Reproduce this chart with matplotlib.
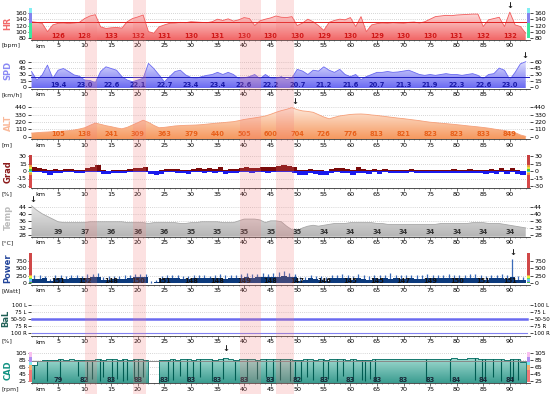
import numpy as np
import matplotlib
matplotlib.use("Agg")
import matplotlib.pyplot as plt
from matplotlib.colors import LinearSegmentedColormap
from matplotlib.patches import Rectangle, PathPatch
from matplotlib.transforms import blended_transform_factory as blend

plt.rcParams["font.family"] = "DejaVu Sans"

# ---- data (one value per km) ----
hr = [132, 130, 127, 101, 122, 127, 128, 126, 128, 130,
      142, 150, 154, 116, 111, 113, 114, 112, 132, 142,
      147, 153, 101, 96, 116, 122, 127, 128, 130, 129,
      132, 131, 130, 129, 132, 140, 136, 141, 134, 138,
      145, 142, 120, 135, 140, 144, 150, 146, 145, 148,
      120, 128, 140, 132, 120, 105, 130, 136, 140, 138,
      145, 117, 148, 101, 122, 126, 128, 127, 129, 128,
      127, 130, 131, 128, 132, 140, 148, 150, 152, 151,
      153, 154, 155, 156, 156, 117, 138, 142, 146, 117,
      162, 122, 117, 96]
spd = [37, 17, 29, 52, 21, 40, 44, 37, 29, 26,
       17, 16, 11, 37, 48, 44, 40, 25, 17, 13,
       17, 21, 56, 44, 29, 13, 25, 37, 40, 29,
       23, 21, 25, 28, 30, 35, 30, 35, 30, 20,
       22, 25, 30, 20, 30, 22, 20, 25, 18, 22,
       42, 38, 30, 40, 38, 48, 40, 35, 42, 30,
       25, 30, 18, 25, 30, 35, 35, 37, 35, 36,
       38, 40, 35, 30, 28, 30, 28, 30, 32, 30,
       30, 28, 30, 32, 28, 20, 30, 32, 45, 40,
       18, 35, 55, 60]
alt = [54, 60, 66, 70, 75, 80, 85, 90, 100, 115,
       134, 170, 204, 185, 165, 150, 132, 118, 140, 175,
       210, 247, 215, 170, 134, 140, 150, 161, 166, 170,
       172, 175, 180, 188, 196, 204, 210, 218, 225, 240,
       258, 270, 282, 295, 310, 335, 365, 390, 410, 435,
       405, 386, 378, 365, 330, 295, 268, 290, 311, 322,
       333, 338, 340, 335, 325, 318, 308, 298, 288, 278,
       270, 260, 250, 240, 228, 217, 210, 202, 195, 188,
       180, 172, 163, 155, 147, 138, 128, 115, 103, 92,
       78, 60, 26, 5]
grad_max = [9, 6, 4, 2, 4, 3, 4, 5, 3, 3,
            7, 8, 12, 2, 1, 2, 2, 2, 5, 6,
            7, 9, 1, 1, 2, 4, 5, 4, 3, 2,
            5, 6, 5, 6, 5, 8, 3, 5, 4, 7,
            8, 7, 7, 9, 8, 9, 11, 13, 10, 9,
            2, 3, 5, 3, 2, 1, 5, 7, 6, 5,
            2, 8, 5, 3, 5, 3, 5, 2, 3, 2,
            2, 4, 2, 3, 2, 3, 2, 2, 3, 4,
            2, 3, 4, 2, 3, 2, 4, 2, 6, 3,
            7, 2, 1, 1]
grad_min = [-2, -2, -3, -7, -3, -4, -2, -2, -3, -3,
            -1, -1, -2, -5, -5, -4, -4, -4, -2, -1,
            -1, -2, -6, -7, -5, -2, -2, -3, -4, -5,
            -2, -2, -3, -2, -3, -2, -5, -3, -3, -1,
            -2, -3, -2, -1, -3, -2, -1, -2, -2, -3,
            -8, -7, -3, -5, -7, -8, -3, -2, -3, -3,
            -7, -3, -3, -5, -2, -5, -2, -4, -3, -4,
            -4, -2, -4, -4, -4, -3, -4, -4, -3, -3,
            -4, -3, -3, -4, -4, -5, -3, -5, -2, -5,
            -2, -6, -8, -30]
temp = [44.5, 42, 40, 38.5, 37, 35.5, 35, 35, 35, 35,
        35, 35.5, 35.5, 35.5, 35.5, 35.5, 35.5, 35.5, 35, 35,
        35, 35, 34.5, 35, 35, 35, 35, 35, 34.5, 34.5,
        35, 35, 35.5, 35.5, 35.5, 35.5, 35, 35, 35, 36,
        37, 37, 37, 36.5, 35, 36, 36, 35.5, 33, 31,
        30.5, 32, 33, 33.5, 33, 33.5, 34, 34.5, 34.5, 34.5,
        35, 35, 35, 35, 35, 34.5, 34.5, 34, 34, 34,
        34, 34, 34, 34, 34, 34, 34, 34.5, 34.5, 34.5,
        34.5, 34.5, 34.5, 35, 35, 35, 34.5, 34.5, 34.5, 34,
        33.5, 33, 32.5, 32]
power_avg = [130, 150, 160, 70, 150, 160, 150, 160, 170, 160,
             190, 210, 220, 110, 120, 130, 140, 150, 180, 200,
             210, 210, 20, 40, 130, 160, 170, 160, 150, 150,
             160, 160, 160, 160, 170, 180, 150, 170, 160, 190,
             210, 190, 200, 210, 200, 210, 220, 230, 210, 200,
             90, 110, 160, 130, 120, 90, 160, 180, 170, 160,
             120, 180, 150, 120, 160, 150, 160, 150, 160, 155,
             150, 160, 155, 150, 160, 160, 165, 160, 170, 170,
             175, 170, 175, 180, 175, 110, 160, 160, 180, 130,
             210, 110, 100, 40]
power_max = [260, 280, 250, 150, 270, 260, 250, 280, 260, 250,
             300, 320, 330, 220, 230, 240, 250, 260, 290, 310,
             300, 310, 80, 120, 240, 260, 270, 260, 250, 250,
             260, 270, 260, 250, 280, 300, 260, 280, 260, 300,
             330, 300, 310, 330, 320, 340, 360, 400, 330, 310,
             200, 220, 270, 240, 230, 200, 260, 290, 300, 260,
             230, 300, 260, 230, 280, 260, 270, 350, 280, 260,
             270, 290, 260, 270, 300, 270, 280, 270, 300, 290,
             290, 280, 300, 320, 290, 230, 270, 280, 300, 260,
             820, 230, 200, 280]
cad = [70, 82, 85, 84, 86, 87, 86, 87, 86, 85,
       86, 85, 87, 86, 88, 87, 86, 87, 86, 88,
       87, 86, 0, 0, 84, 86, 87, 86, 88, 87,
       86, 87, 88, 87, 86, 87, 90, 87, 86, 87,
       88, 87, 86, 87, 88, 88, 87, 88, 87, 86,
       86, 87, 88, 86, 87, 86, 87, 88, 87, 86,
       87, 86, 85, 86, 87, 88, 87, 88, 87, 88,
       89, 88, 87, 88, 88, 89, 88, 87, 89, 90,
       88, 89, 90, 91, 88, 87, 88, 87, 89, 86,
       87, 88, 80, 0]
cad_dip_km = [0.4, 2.9, 5.3, 8.8, 10.4, 11.3, 12.9, 13.5, 15.1, 16.0,
              17.3, 17.9, 19.2, 20.1, 21.0, 23.9, 25.7, 26.7, 27.9, 29.2,
              30.4, 31.7, 33.9, 36.1, 38.3, 40.5, 42.4, 44.2, 45.5, 46.7,
              48.6, 49.6, 50.8, 51.8, 53.0, 54.9, 55.8, 57.4, 58.6, 60.5,
              62.1, 62.7, 63.7, 64.6, 74.3, 78.7, 83.4, 84.7, 85.3, 86.9,
              88.4, 90.0, 90.6, 91.6]
cad_dip_val = [30, 25, 28, 40, 25, 30, 25, 35, 25, 30,
               25, 28, 30, 25, 35, 30, 25, 28, 40, 25,
               30, 35, 25, 30, 28, 25, 30, 35, 25, 28,
               25, 30, 25, 35, 28, 25, 30, 25, 40, 25,
               28, 25, 30, 25, 25, 25, 28, 25, 30, 35,
               25, 30, 25, 28]
bal_km = [0, 93.2]
bal_split = [50, 50]
bal_floor = [0, 0]

label_km = list(range(5, 95, 5))
hr_labels = [126, 128, 133, 132, 131, 130, 131, 130, 130, 130, 129, 130, 129, 130, 130, 131, 132, 132]
spd_labels = ["19.4", "23.0", "22.6", "22.1", "22.7", "23.4", "23.4", "22.6", "22.2",
              "20.7", "21.2", "21.6", "20.7", "21.3", "21.9", "22.3", "22.6", "23.0"]
alt_labels = [105, 138, 241, 309, 363, 379, 440, 505, 600, 704, 726, 776, 813, 821, 823, 823, 833, 849]
temp_labels = [39, 37, 36, 36, 36, 35, 35, 35, 35, 35, 34, 34, 34, 34, 34, 34, 34, 34]
power_labels = [151, 152, 148, 150, 151, 148, 148, 149, 148, 147, 146, 145, 145, 147, 149, 150, 151, 151]
cad_labels = [79, 82, 83, 83, 83, 83, 83, 83, 83, 82, 83, 83, 83, 83, 83, 84, 84, 84]
hr_avg, spd_avg, cad_avg = 130, 23, 82
bands = [(10.1, 12.3), (19.1, 21.5), (39.2, 43.1), (46.0, 49.4)]

km = np.arange(len(hr))

W, H = 550, 394
XMIN, XMAX = -0.1, 93.8
LEFT, RIGHT = 31, 530
fig = plt.figure(figsize=(5.5, 3.94), dpi=100)


def panel(bottom, hi_px, hi_val, lo_px, lo_val, top, ticks, ticklabels=None, tsize=4.5):
    scale = (lo_px - hi_px) / (hi_val - lo_val)
    y0 = lo_val - (bottom - lo_px) / scale
    y1 = hi_val + (hi_px - top) / scale
    ax = fig.add_axes([LEFT / W, 1 - bottom / H, (RIGHT - LEFT) / W, (bottom - top) / H])
    ax.set_xlim(XMIN, XMAX)
    ax.set_ylim(y0, y1)
    ax.patch.set_alpha(0)
    for s in ["top", "left", "right"]:
        ax.spines[s].set_visible(False)
    ax.spines["bottom"].set_linewidth(0.6)
    ax.spines["bottom"].set_color("#333333")
    ax.set_xticks(label_km)
    ax.set_xticklabels([str(k) for k in label_km])
    ax.set_xticks(range(0, 94), minor=True)
    ax.tick_params(axis="x", which="major", length=2, width=0.5, labelsize=4.6, pad=0.5, color="#333333")
    ax.tick_params(axis="x", which="minor", length=1, width=0.4, color="#555555")
    ax.set_yticks(ticks)
    ax.set_yticklabels(ticklabels if ticklabels else [str(t) for t in ticks])
    ax.tick_params(axis="y", length=2, width=0.5, labelsize=tsize, pad=1,
                   left=True, right=True, labelleft=True, labelright=True)
    for t in ticks[1:]:
        ax.axhline(t, color="#b0b0b0", lw=0.5, ls=(0, (1, 2)), zorder=0.5)
    ax.annotate("km", xy=(0.8, 0), xycoords=blend(ax.transData, ax.transAxes),
                xytext=(0, -6), textcoords="offset pixels", ha="left", va="center", fontsize=4.6)
    return ax


def gfill(ax, x, y, ctop, cbot, step=None):
    y0, y1 = ax.get_ylim()
    coll = ax.fill_between(x, y0, y, step=step, facecolor="none", edgecolor="none")
    patch = PathPatch(coll.get_paths()[0], transform=ax.transData, facecolor="none", edgecolor="none")
    ax.add_patch(patch)
    cmap = LinearSegmentedColormap.from_list("g", [cbot, ctop])
    im = ax.imshow(np.linspace(0, 1, 256).reshape(-1, 1), extent=[XMIN, XMAX, y0, max(y)],
                   origin="lower", aspect="auto", cmap=cmap, zorder=1)
    im.set_clip_path(patch)
    ax.set_xlim(XMIN, XMAX)
    ax.set_ylim(y0, y1)


def labels(ax, vals, color, off):
    for k, v in zip(label_km, vals):
        ax.annotate(str(v), xy=(k, 0), xycoords=blend(ax.transData, ax.transAxes),
                    xytext=(0, off), textcoords="offset pixels", ha="center", va="center",
                    fontsize=4.8, fontweight="bold", color=color, zorder=6)


def zones(ax, segs):
    tr = blend(ax.transAxes, ax.transData)
    for x0 in (-0.004, 0.993):
        for lo, hi, c in segs:
            ax.add_patch(Rectangle((x0, lo), 0.007, hi - lo, transform=tr, color=c,
                                   clip_on=False, zorder=4, lw=0))


def arrow(ax, k, v, dy=2):
    ax.annotate("↓", xy=(k, v), xytext=(0, dy), textcoords="offset pixels",
                ha="center", va="bottom", fontsize=6, fontweight="bold", color="#222222",
                annotation_clip=False, zorder=7)


def name(yc, text, color, unit, uy, x=8):
    fig.text(x / W, 1 - yc / H, text, rotation=90, ha="center", va="center",
             fontsize=6, fontweight="bold", color=color)
    fig.text(2 / W, 1 - uy / H, unit, ha="left", va="center", fontsize=4.5, color="#222222")


# HR
ax = panel(40, 12.8, 160, 38.3, 80, 6, [80, 100, 120, 140, 160])
gfill(ax, km, hr, "#fde2e2", "#f26666")
ax.plot(km, hr, color="#f25a5a", lw=0.6, zorder=2)
ax.axhline(hr_avg, color="#e02020", lw=0.7, zorder=3)
labels(ax, hr_labels, "#d01818", 4.3)
zones(ax, [(80, 129, "#3ee6a0"), (129, 160, "#8484ee"), (160, 176, "#84eef4")])
arrow(ax, 90, 162)
name(23, "HR", "#f26a6a", "[bpm]", 46)

# SPD
ax = panel(88.5, 61.7, 60, 87.3, 0, 55, [0, 15, 30, 45, 60])
gfill(ax, km, spd, "#e2e2fd", "#6a6af2")
ax.plot(km, spd, color="#6a6af2", lw=0.6, zorder=2)
ax.axhline(spd_avg, color="#2020c0", lw=0.7, zorder=3)
labels(ax, spd_labels, "#1a1aa8", 3.5)
arrow(ax, 92.8, 60)
name(70, "SPD", "#8a8af5", "[km/h]", 95)

# ALT
ax = panel(139.3, 107.3, 440, 136.7, 0, 101, [0, 110, 220, 330, 440])
gfill(ax, km, alt, "#fdeadd", "#f6985e")
ax.plot(km, alt, color="#f6a07a", lw=0.6, zorder=2)
labels(ax, alt_labels, "#e8601a", 5.3)
arrow(ax, 49.5, 435)
name(123, "ALT", "#f9b99a", "[m]", 145)

# Grad
ax = panel(188.3, 156, 30, 186, -30, 151, [-30, -15, 0, 15, 30])
ax.fill_between(km, 0, grad_max, step="post", color="#7a0a0a", lw=0, zorder=1)
ax.fill_between(km, grad_min, 0, step="post", color="#1a1aee", lw=0, zorder=1)
zones(ax, [(-33, -8, "#d84a4a"), (-8, -4, "#f0a040"), (-4, -1, "#ece040"), (-1, 1, "#40c8e8"),
           (1, 4, "#40c840"), (4, 8, "#ece040"), (8, 12, "#f0a040"), (12, 33, "#c84040")])
name(172, "Grad", "#8b1a1a", "[%]", 194)

# Temp
ax = panel(236.7, 206.7, 44, 235, 28, 201, [28, 32, 36, 40, 44])
gfill(ax, km, temp, "#e6e6e6", "#b4b4b4")
ax.plot(km, temp, color="#a8a8a8", lw=0.6, zorder=2)
labels(ax, temp_labels, "#333333", 4.4)
arrow(ax, 0.3, 44.5)
name(217, "Temp", "#bcbcbc", "[°C]", 243)

# Power
ax = panel(285, 260.7, 750, 283.3, 0, 252, [0, 250, 500, 750])
ax.vlines(km + 0.5, power_avg, power_max, color="#3a6ab8", lw=0.9, zorder=1)
ax.fill_between(km, 0, power_avg, step="post", color="#0c3a7c", lw=0, zorder=1.5)
labels(ax, power_labels, "#111111", 4)
zones(ax, [(0, 40, "#40c040"), (40, 90, "#9a80f0"), (90, 140, "#60d0f0"), (140, 190, "#60e060"),
           (190, 240, "#f0f040"), (240, 290, "#f0a040"), (290, 1000, "#d04848")])
arrow(ax, 90.5, 820)
name(268, "Power", "#22449a", "[Watt]", 291)

# Bal
ax = panel(336, 305, 100, 333.3, 0, 300, [0, 25, 50, 75, 100],
           ["100 R", "75 R", "50-50", "75 L", "100 L"], tsize=3.9)
ax.plot(bal_km, bal_split, color="#6a6af0", lw=1.8, zorder=2)
ax.plot(bal_km, bal_floor, color="#8080f0", lw=0.8, zorder=2)
name(318, "BaL", "#1f5f55", "[%]", 341, x=6)

# CAD
ax = panel(383.3, 353.3, 105, 380.7, 25, 347, [25, 45, 65, 85, 105])
gfill(ax, km, cad, "#a4dcd2", "#3a9c90", step="post")
ax.step(km, cad, where="post", color="#006a60", lw=0.6, zorder=2)
ax.vlines(cad_dip_km, cad_dip_val, [cad[int(k)] for k in cad_dip_km], color="#005c52", lw=0.8, zorder=2)
ax.axhline(cad_avg, color="#888888", lw=0.7, zorder=3)
labels(ax, cad_labels, "#1a2a3a", 3.3)
zones(ax, [(20, 56, "#f07878"), (56, 71, "#f8b070"), (71, 81, "#80e8f0"), (81, 95, "#b090f0"),
           (95, 110, "#f8c0f0")])
arrow(ax, 36.5, 99)
name(370, "CAD", "#139383", "[rpm]", 390)

# highlighted stretches across all panels
tr = blend(ax.transData, fig.transFigure)
for a, b in bands:
    fig.add_artist(Rectangle((a, 0), b - a, 1, transform=tr, color="#f47a7a", alpha=0.22, lw=0, zorder=5))

fig.savefig("out.png", dpi=100)
